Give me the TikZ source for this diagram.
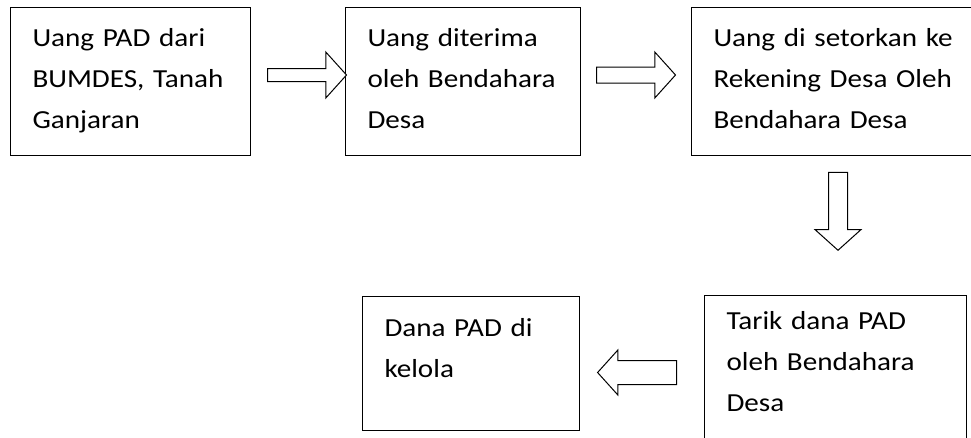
\documentclass[tikz,border=0pt]{standalone}
\usepackage{fontspec}
\setmainfont{Carlito}[FakeStretch=1.12]
\usetikzlibrary{positioning, calc, shapes.arrows}

\begin{document}
\begin{tikzpicture}[line width=0.75pt]
        % Define block styles
        \tikzset{
          box/.style={rectangle, draw, anchor=north west, align=left, inner xsep=16.5pt, inner ysep=0pt, text height=29.25pt, text depth=81.75pt, font=\fontsize{19.5pt}{30.75pt}\selectfont},
          hollow/.style={single arrow, draw, fill=white, inner xsep=0pt, single arrow tip angle=96}
        }
        \useasboundingbox (0,0) rectangle (728.25pt,-327.75pt);

        % Place nodes
        \node [box, text width=147pt] (pad) at (7.5pt,-5.25pt) {Uang PAD dari\\BUMDES, Tanah\\Ganjaran};
        \node [box, text width=143.25pt, right=70.5pt of pad] (terima) {Uang diterima\\oleh Bendahara\\Desa};
        \node [box, text width=210pt, right=82.5pt of terima] (setor) {Uang di setorkan ke\\Rekening Desa Oleh\\Bendahara Desa};
        \node [box, text width=163.5pt, text height=25.5pt, text depth=94.5pt] (tarik) at (528pt,-221.25pt) {Tarik dana PAD\\oleh Bendahara\\Desa};
        \node [box, text width=129.75pt, text height=30pt, text depth=70.5pt] (kelola) at (271.5pt,-222pt) {Dana PAD di\\kelola};

        % Draw block arrows
        \node [hollow, minimum height=59.25pt, inner ysep=4.5pt, single arrow head extend=12.375pt, right=12pt of pad, yshift=4.875pt] (pad2terima) {};
        \node [hollow, minimum height=59.25pt, inner ysep=5.625pt, single arrow head extend=11.25pt, right=11.25pt of terima, yshift=4.875pt] (terima2setor) {};
        \node [hollow, minimum height=58.5pt, inner ysep=6.75pt, single arrow head extend=10.125pt, rotate=-90] (setor2tarik) at ([xshift=-11.625pt, yshift=-38.25pt]setor.south) {};
        \node [hollow, minimum height=59.25pt, inner ysep=8.625pt, single arrow head extend=7.875pt, rotate=180] (tarik2kelola) at ([xshift=46.875pt, yshift=-6.75pt]kelola.east) {};
    \end{tikzpicture}
\end{document}
